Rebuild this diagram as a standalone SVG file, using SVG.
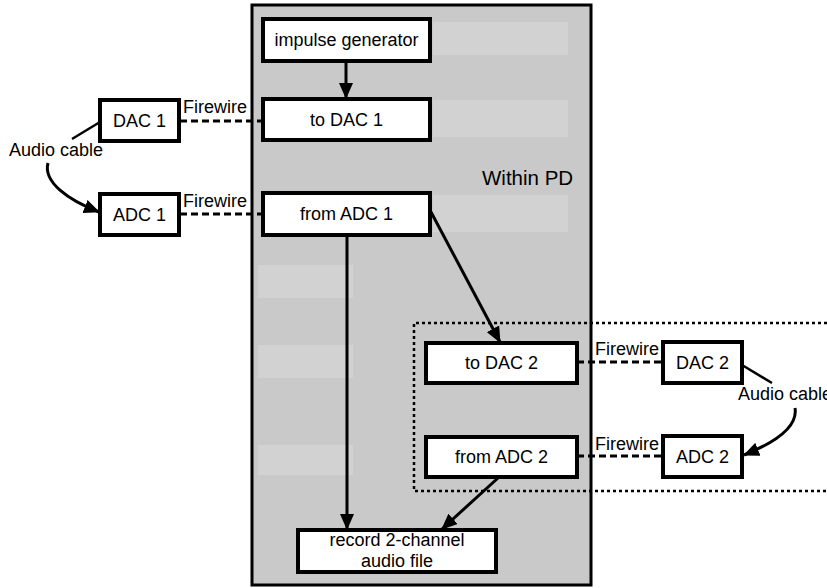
<svg xmlns="http://www.w3.org/2000/svg" width="827" height="588" viewBox="0 0 827 588">
<defs>
<style>
.box{fill:#fff;stroke:#000;stroke-width:4}
.t{font-family:"Liberation Sans",Arial,Helvetica,sans-serif;font-size:18px;fill:#000}
.c{text-anchor:middle}
.ln{fill:none;stroke:#000;stroke-width:3}
.thin{fill:none;stroke:#000;stroke-width:2.5}
.dash{fill:none;stroke:#000;stroke-width:3;stroke-dasharray:7 4}
.ghost{fill:#d2d2d2}
</style>
<marker id="ah" viewBox="0 0 16 14" refX="15" refY="7" markerWidth="16" markerHeight="14" markerUnits="userSpaceOnUse" orient="auto">
<path d="M0,0 L16,7 L0,14 z" fill="#000"/>
</marker>
</defs>
<rect width="827" height="588" fill="#fff"/>
<g id="pd">
<rect x="252" y="5" width="339" height="580" fill="#c9c9c9" stroke="#000" stroke-width="3"/>
<rect class="ghost" x="433" y="22" width="135" height="33"/>
<rect class="ghost" x="433" y="100" width="135" height="37"/>
<rect class="ghost" x="433" y="195" width="135" height="37"/>
<rect class="ghost" x="258" y="265" width="95" height="33"/>
<rect class="ghost" x="258" y="345" width="95" height="33"/>
<rect class="ghost" x="258" y="445" width="95" height="30"/>
<text class="t" x="482" y="185" style="font-size:20.5px">Within PD</text>
</g>
<g id="group2">
<path d="M827,323 H414 V491 H827" fill="none" stroke="#000" stroke-width="2.5" stroke-dasharray="3 3"/>
</g>
<g id="connectors">
<line class="ln" x1="346" y1="61" x2="346" y2="98" marker-end="url(#ah)"/>
<line class="ln" x1="347" y1="235" x2="347" y2="529" marker-end="url(#ah)"/>
<line class="ln" x1="431" y1="212" x2="500" y2="342" marker-end="url(#ah)"/>
<line class="ln" x1="498" y1="478" x2="442" y2="529" marker-end="url(#ah)"/>
<line class="dash" x1="180" y1="121" x2="263" y2="121"/>
<line class="dash" x1="180" y1="214" x2="263" y2="214"/>
<line class="dash" x1="577" y1="362" x2="663" y2="362"/>
<line class="dash" x1="577" y1="456" x2="663" y2="456"/>
<line class="thin" x1="100" y1="122" x2="72" y2="139"/>
<path class="ln" d="M48,163 C43,182 68,200 99,212" marker-end="url(#ah)"/>
<line class="thin" x1="742" y1="365" x2="772" y2="383"/>
<path class="ln" d="M795,408 C798,426 776,442 744,455" marker-end="url(#ah)"/>
<text class="t" x="183" y="113">Firewire</text>
<text class="t" x="183" y="207">Firewire</text>
<text class="t" x="595" y="355">Firewire</text>
<text class="t" x="595" y="450">Firewire</text>
<text class="t" x="9" y="156">Audio cable</text>
<text class="t" x="738" y="400">Audio cable</text>
</g>
<g id="impulse"><rect class="box" x="263" y="19" width="167" height="42"/><text class="t c" x="346.5" y="46">impulse generator</text></g>
<g id="todac1"><rect class="box" x="263" y="99" width="167" height="41"/><text class="t c" x="346.5" y="126">to DAC 1</text></g>
<g id="fromadc1"><rect class="box" x="263" y="193" width="167" height="42"/><text class="t c" x="346.5" y="220">from ADC 1</text></g>
<g id="todac2"><rect class="box" x="426" y="343" width="151" height="40"/><text class="t c" x="501.5" y="369">to DAC 2</text></g>
<g id="fromadc2"><rect class="box" x="426" y="437" width="151" height="40"/><text class="t c" x="501.5" y="463">from ADC 2</text></g>
<g id="record"><rect class="box" x="298" y="530" width="198" height="42"/><text class="t c" x="397" y="546">record 2-channel</text><text class="t c" x="397" y="567">audio file</text></g>
<g id="dac1"><rect class="box" x="100" y="100" width="79" height="41"/><text class="t c" x="139.5" y="127">DAC 1</text></g>
<g id="adc1"><rect class="box" x="100" y="194" width="79" height="41"/><text class="t c" x="139.5" y="221">ADC 1</text></g>
<g id="dac2"><rect class="box" x="663" y="342" width="79" height="41"/><text class="t c" x="702.5" y="369">DAC 2</text></g>
<g id="adc2"><rect class="box" x="663" y="436" width="79" height="41"/><text class="t c" x="702.5" y="463">ADC 2</text></g>
</svg>
